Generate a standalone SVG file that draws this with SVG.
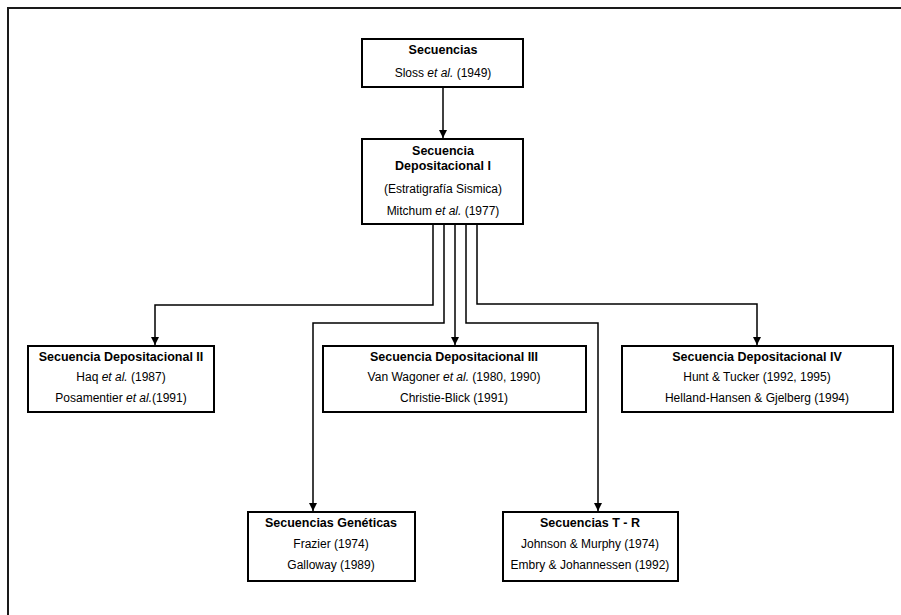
<svg xmlns="http://www.w3.org/2000/svg" width="901" height="615" viewBox="0 0 901 615">
  <defs>
    <marker id="arrow" viewBox="0 0 10 10" refX="10" refY="5" markerWidth="8" markerHeight="9" markerUnits="userSpaceOnUse" orient="auto">
      <path d="M0,0 L10,5 L0,10 Z" fill="#000"/>
    </marker>
    <style>
      .box { fill: #fff; stroke: #000; stroke-width: 2; }
      .frame { fill: none; stroke: #1a1a1a; stroke-width: 2; }
      .conn { fill: none; stroke: #000; stroke-width: 1.5; marker-end: url(#arrow); }
      text { font-family: "Liberation Sans", Arial, sans-serif; font-size: 12px; fill: #000; text-anchor: middle; }
      .b { font-weight: bold; font-size: 12.5px; }
      .i { font-style: italic; }
    </style>
  </defs>
  <rect width="901" height="615" fill="#fff"/>
  <!-- outer frame, open to the right and bottom -->
  <path class="frame" d="M8,615 L8,8 L901,8"/>

  <g id="connectors">
    <path class="conn" d="M443,87 L443,138"/>
    <path class="conn" d="M433,224 L433,305 L155,305 L155,345"/>
    <path class="conn" d="M444,224 L444,323 L313,323 L313,511"/>
    <path class="conn" d="M455,224 L455,345"/>
    <path class="conn" d="M466,224 L466,323 L598,323 L598,511"/>
    <path class="conn" d="M477,224 L477,304 L757,304 L757,345"/>
  </g>

  <g id="secuencias">
    <rect class="box" x="362" y="39" width="161" height="48"/>
    <text class="b" x="443" y="54">Secuencias</text>
    <text x="443" y="77">Sloss <tspan class="i">et al.</tspan> (1949)</text>
  </g>

  <g id="dep-i">
    <rect class="box" x="362" y="139" width="161" height="85"/>
    <text class="b" x="443" y="155">Secuencia</text>
    <text class="b" x="443" y="170">Depositacional I</text>
    <text x="443" y="193">(Estratigrafía Sismica)</text>
    <text x="443" y="215">Mitchum <tspan class="i">et al.</tspan> (1977)</text>
  </g>

  <g id="dep-ii">
    <rect class="box" x="28" y="346" width="186" height="66"/>
    <text class="b" x="121" y="361">Secuencia Depositacional II</text>
    <text x="121" y="381">Haq <tspan class="i">et al.</tspan> (1987)</text>
    <text x="121" y="402">Posamentier <tspan class="i">et al.</tspan>(1991)</text>
  </g>

  <g id="dep-iii">
    <rect class="box" x="323" y="346" width="263" height="66"/>
    <text class="b" x="454" y="361">Secuencia Depositacional III</text>
    <text x="454" y="381">Van Wagoner <tspan class="i">et al.</tspan> (1980, 1990)</text>
    <text x="454" y="402">Christie-Blick (1991)</text>
  </g>

  <g id="dep-iv">
    <rect class="box" x="622" y="346" width="271" height="66"/>
    <text class="b" x="757" y="361">Secuencia Depositacional IV</text>
    <text x="757" y="381">Hunt &amp; Tucker (1992, 1995)</text>
    <text x="757" y="402">Helland-Hansen &amp; Gjelberg (1994)</text>
  </g>

  <g id="geneticas">
    <rect class="box" x="248" y="512" width="167" height="69"/>
    <text class="b" x="331" y="527">Secuencias Genéticas</text>
    <text x="331" y="548">Frazier (1974)</text>
    <text x="331" y="569">Galloway (1989)</text>
  </g>

  <g id="t-r">
    <rect class="box" x="503" y="512" width="175" height="69"/>
    <text class="b" x="590" y="527">Secuencias T - R</text>
    <text x="590" y="548">Johnson &amp; Murphy (1974)</text>
    <text x="590" y="569">Embry &amp; Johannessen (1992)</text>
  </g>
</svg>
